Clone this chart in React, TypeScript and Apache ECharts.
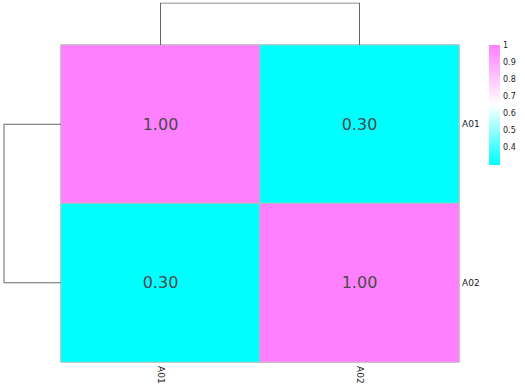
import React, { useEffect, useRef } from "react";
import * as echarts from "echarts";

const samples = ["A01", "A02"];
const matrix = [
  [1.0, 0.3],
  [0.3, 1.0],
];
const mergeHeight = 0.7;
const scaleMin = 0.3;
const scaleMax = 1;
const scaleTicks = [0.4, 0.5, 0.6, 0.7, 0.8, 0.9, 1];
const lowColor = "#00FFFF";
const midColor = "#FFFFFF";
const highColor = "#FF80FF";

export default function App() {
  const ref = useRef<HTMLDivElement>(null);
  useEffect(() => {
    const chart = echarts.init(ref.current!, null, { renderer: "svg" });
    const heatData: any[] = [];
    matrix.forEach((row, r) =>
      row.forEach((v, c) => heatData.push([c, r, v]))
    );
    const dendroColor = "#666";
    const option: any = {
      animation: false,
      grid: [
        { left: 61, right: 66, top: 45, bottom: 25 },
        { left: 61, right: 66, top: 3, height: 42 },
        { left: 4, width: 57, top: 45, bottom: 25 },
        { left: 489, width: 11, top: 45, height: 120 },
      ],
      xAxis: [
        {
          type: "category",
          data: samples,
          gridIndex: 0,
          axisLine: { show: false },
          axisTick: { show: false },
          axisLabel: {
            rotate: -90,
            color: "#222",
            fontSize: 9,
            fontFamily: "DejaVu Sans",
            margin: 4,
          },
          splitLine: { show: false },
        },
        { type: "category", data: samples, gridIndex: 1, show: false },
        {
          type: "value",
          gridIndex: 2,
          min: 0,
          max: mergeHeight,
          inverse: true,
          show: false,
        },
        { type: "category", data: ["scale"], gridIndex: 3, show: false },
      ],
      yAxis: [
        {
          type: "category",
          data: samples,
          gridIndex: 0,
          inverse: true,
          position: "right",
          axisLine: { show: false },
          axisTick: { show: false },
          axisLabel: {
            color: "#222",
            fontSize: 9,
            fontFamily: "DejaVu Sans",
            margin: 3,
          },
          splitLine: { show: false },
        },
        {
          type: "value",
          gridIndex: 1,
          min: 0,
          max: mergeHeight,
          show: false,
        },
        {
          type: "category",
          data: samples,
          gridIndex: 2,
          inverse: true,
          show: false,
        },
        {
          type: "value",
          gridIndex: 3,
          min: scaleMin,
          max: scaleMax,
          position: "right",
          axisLine: { show: false },
          axisTick: { show: false },
          splitLine: { show: false },
          axisLabel: {
            color: "#222",
            fontSize: 8,
            fontFamily: "DejaVu Sans",
            margin: 3,
            customValues: scaleTicks,
            formatter: (v: number) => String(Math.round(v * 10) / 10),
          },
        },
      ],
      visualMap: [
        {
          type: "continuous",
          min: scaleMin,
          max: scaleMax,
          seriesIndex: 0,
          show: false,
          inRange: { color: [lowColor, midColor, highColor] },
        },
      ],
      series: [
        {
          type: "heatmap",
          xAxisIndex: 0,
          yAxisIndex: 0,
          data: heatData,
          itemStyle: { borderColor: "#bbb", borderWidth: 1 },
          label: {
            show: true,
            formatter: (p: any) => p.value[2].toFixed(2),
            fontSize: 16,
            color: "#4a4a4a",
            fontFamily: "DejaVu Sans",
          },
          emphasis: { disabled: true },
        },
        {
          type: "line",
          xAxisIndex: 1,
          yAxisIndex: 1,
          symbol: "none",
          lineStyle: { color: dendroColor, width: 1 },
          data: [
            [samples[0], 0],
            [samples[0], mergeHeight],
            [samples[1], mergeHeight],
            [samples[1], 0],
          ],
        },
        {
          type: "line",
          xAxisIndex: 2,
          yAxisIndex: 2,
          symbol: "none",
          lineStyle: { color: dendroColor, width: 1 },
          data: [
            [0, samples[0]],
            [mergeHeight, samples[0]],
            [mergeHeight, samples[1]],
            [0, samples[1]],
          ],
        },
        {
          type: "bar",
          xAxisIndex: 3,
          yAxisIndex: 3,
          stack: "scale",
          barWidth: "100%",
          silent: true,
          itemStyle: { color: "transparent" },
          data: [scaleMin],
        },
        {
          type: "bar",
          xAxisIndex: 3,
          yAxisIndex: 3,
          stack: "scale",
          barWidth: "100%",
          silent: true,
          itemStyle: {
            color: new echarts.graphic.LinearGradient(0, 0, 0, 1, [
              { offset: 0, color: highColor },
              { offset: 0.5, color: midColor },
              { offset: 1, color: lowColor },
            ]),
          },
          data: [scaleMax - scaleMin],
        },
      ],
    };
    chart.setOption(option);
    return () => chart.dispose();
  }, []);
  return (
    <div
      ref={ref}
      style={{ width: 525, height: 387, position: "absolute", left: 0, top: 0 }}
    />
  );
}
